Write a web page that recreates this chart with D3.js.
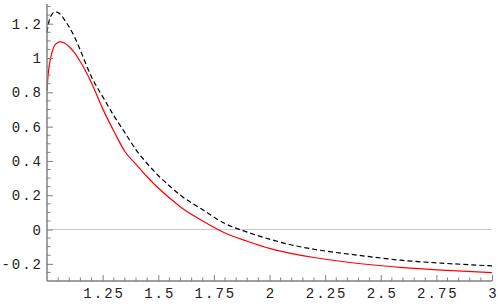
<!DOCTYPE html>
<meta charset="utf-8">
<html>
<head>
<style>
  body { margin: 0; background: #fff; }
  .tick text { font-family: "Liberation Mono", monospace; font-size: 14px; fill: #222; letter-spacing: 2px; }
</style>
</head>
<body>
<svg width="498" height="308"></svg>
<script src="https://d3js.org/d3.v7.min.js"></script>
<script>

    // sample points
    var xs = [1, 1.005, 1.01, 1.02, 1.03, 1.045, 1.06, 1.08, 1.1, 1.125, 1.15, 1.2, 1.25, 1.3, 1.35, 1.4,
              1.45, 1.5, 1.55, 1.6, 1.7, 1.8, 1.9, 2, 2.1, 2.2, 2.4, 2.6, 2.8, 3];
    var redSeries = [0.81, 0.90, 0.955, 1.02, 1.062, 1.088, 1.094, 1.086, 1.066, 1.028, 0.978, 0.855, 0.705, 0.575, 0.455, 0.38,
                     0.308, 0.242, 0.185, 0.132, 0.05, -0.02, -0.068, -0.11, -0.14, -0.163, -0.198, -0.222, -0.238, -0.251];
    var dashSeries = [1.15, 1.19, 1.22, 1.25, 1.266, 1.268, 1.255, 1.22, 1.18, 1.12, 1.045, 0.89, 0.775, 0.665, 0.565, 0.465,
                      0.385, 0.315, 0.255, 0.2, 0.115, 0.035, -0.015, -0.056, -0.09, -0.115, -0.15, -0.18, -0.198, -0.212];

    var xTicks = [1.25, 1.5, 1.75, 2, 2.25, 2.5, 2.75, 3];
    var xTickLabels = ["1.25", "1.5", "1.75", "2", "2.25", "2.5", "2.75", "3"];
    var yTicks = [-0.2, 0, 0.2, 0.4, 0.6, 0.8, 1, 1.2];
    var yTickLabels = ["-0.2", "0", "0.2", "0.4", "0.6", "0.8", "1", "1.2"];

    var svg = d3.select("svg");

    var x = d3.scaleLinear().domain([1, 3]).range([47, 492]);
    var y = d3.scaleLinear().domain([-0.3, 1.315]).range([281, 4]);

    // zero line
    svg.append("line")
        .attr("x1", x(1)).attr("x2", x(3))
        .attr("y1", y(0)).attr("y2", y(0))
        .attr("stroke", "#c8c8c8")
        .attr("stroke-width", 1);

    var line = d3.line()
        .x(function(d) { return x(d[0]); })
        .y(function(d) { return y(d[1]); })
        .curve(d3.curveMonotoneX);

    svg.append("path")
        .datum(xs.map(function(v, i) { return [v, dashSeries[i]]; }))
        .attr("d", line)
        .attr("fill", "none")
        .attr("stroke", "#000")
        .attr("stroke-width", 1.2)
        .attr("stroke-dasharray", "5,3");

    svg.append("path")
        .datum(xs.map(function(v, i) { return [v, redSeries[i]]; }))
        .attr("d", line)
        .attr("fill", "none")
        .attr("stroke", "#ff0000")
        .attr("stroke-width", 1.2);

    // minor ticks
    var xMinor = d3.range(1.05, 3.001, 0.05).filter(function(v) {
        return Math.abs(v * 4 - Math.round(v * 4)) > 1e-6;
    });
    var yMinor = d3.range(-0.25, 1.301, 0.05).filter(function(v) {
        return Math.abs(v * 5 - Math.round(v * 5)) > 1e-6;
    });

    var xAxis = svg.append("g")
        .attr("transform", "translate(0," + y(-0.3) + ")")
        .call(d3.axisTop(x).tickValues(xTicks).tickSize(6).tickFormat(function(d, i) { return xTickLabels[i]; }));
    xAxis.selectAll(".tick text").attr("y", 17).attr("dy", 0).attr("dx", 1).style("text-anchor", "middle");

    var yAxis = svg.append("g")
        .attr("transform", "translate(" + x(1) + ",0)")
        .call(d3.axisRight(y).tickValues(yTicks).tickSize(6).tickFormat(function(d, i) { return yTickLabels[i]; }));
    yAxis.selectAll(".tick text").attr("x", -4).attr("dx", 0).style("text-anchor", "end");

    svg.append("g").selectAll("line").data(xMinor).enter().append("line")
        .attr("x1", function(d) { return x(d); }).attr("x2", function(d) { return x(d); })
        .attr("y1", y(-0.3)).attr("y2", y(-0.3) - 3.5);
    svg.append("g").selectAll("line").data(yMinor).enter().append("line")
        .attr("y1", function(d) { return y(d); }).attr("y2", function(d) { return y(d); })
        .attr("x1", x(1)).attr("x2", x(1) + 3.5);

    svg.selectAll(".domain").remove();
    svg.selectAll("line").filter(function() { return !this.getAttribute("stroke"); })
        .attr("stroke", "#808080").attr("stroke-width", 1);
    svg.selectAll(".tick line").attr("stroke", "#808080");

    // axis lines
    svg.append("line")
        .attr("x1", x(1)).attr("x2", x(3))
        .attr("y1", y(-0.3)).attr("y2", y(-0.3))
        .attr("stroke", "#808080").attr("stroke-width", 1.5);
    svg.append("line")
        .attr("x1", x(1)).attr("x2", x(1))
        .attr("y1", y(-0.3)).attr("y2", 4)
        .attr("stroke", "#808080").attr("stroke-width", 1.5);
</script>
</body>
</html>
